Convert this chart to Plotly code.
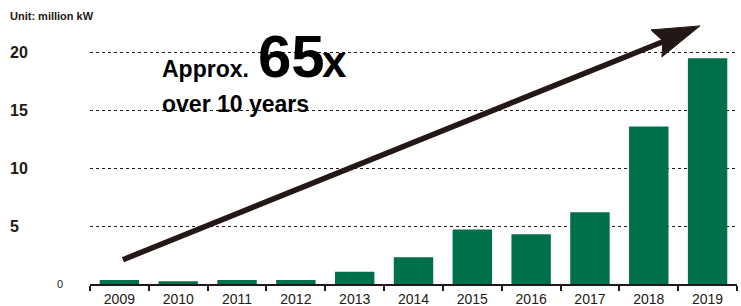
import plotly.graph_objects as go

years = ["2009", "2010", "2011", "2012", "2013", "2014", "2015", "2016", "2017", "2018", "2019"]
capacity = [0.35, 0.23, 0.35, 0.35, 1.06, 2.3, 4.7, 4.3, 6.2, 13.6, 19.5]
ytick_vals = [5, 10, 15, 20]
ytick_text = ["5", "10", "15", "20"]

DARK = "#231815"
GREEN = "#00704a"
FONT = "Liberation Sans, Arial, sans-serif"

fig = go.Figure()
fig.add_trace(go.Bar(x=years, y=capacity, marker=dict(color=GREEN, line=dict(width=0)),
                     showlegend=False, hoverinfo="skip"))

annotations = []
for v, t in zip(ytick_vals, ytick_text):
    annotations.append(dict(x=0, xref="paper", xanchor="left", xshift=-82, y=v, yref="y",
                            text="<b>%s</b>" % t, showarrow=False,
                            font=dict(size=16, color=DARK, family=FONT)))
annotations.append(dict(x=0, xref="paper", xanchor="left", xshift=-35, y=0, yref="y", yshift=0,
                        text="0", showarrow=False, font=dict(size=11, color=DARK, family=FONT)))
annotations.append(dict(x=0, xref="paper", xanchor="left", xshift=-82, y=1, yref="paper", yanchor="middle",
                        yshift=-10,
                        text="<b>Unit: million kW</b>", showarrow=False,
                        font=dict(size=11, color=DARK, family=FONT)))
# big callout text
annotations.append(dict(x=0, xref="paper", xanchor="left", xshift=70, y=1, yref="paper", yanchor="bottom",
                        yshift=-78, text="<b>Approx.</b>", showarrow=False,
                        font=dict(size=23, color="black", family=FONT)))
annotations.append(dict(x=0, xref="paper", xanchor="left", xshift=166, y=1, yref="paper", yanchor="bottom",
                        yshift=-86, text="<b>65</b>", showarrow=False,
                        font=dict(size=60, color="black", family=FONT)))
annotations.append(dict(x=0, xref="paper", xanchor="left", xshift=230, y=1, yref="paper", yanchor="bottom",
                        yshift=-82, text="<b>x</b>", showarrow=False,
                        font=dict(size=44, color="black", family=FONT)))
annotations.append(dict(x=0, xref="paper", xanchor="left", xshift=70, y=1, yref="paper", yanchor="middle",
                        yshift=-98, text="<b>over 10 years</b>", showarrow=False,
                        font=dict(size=23, color="black", family=FONT)))

shapes = [
    dict(type="line", xref="x", yref="y", x0=0.06, y0=2.1, x1=9.45, y1=21.35,
         line=dict(color=DARK, width=5.5)),
    dict(type="path", xref="x", yref="y", xsizemode="pixel", ysizemode="pixel",
         xanchor=9.87, yanchor=22.28,
         path="M0,0 L-49,-4 L-37,-15 L-38,-31 Z",
         fillcolor=DARK, line=dict(color=DARK, width=1)),
]

fig.update_layout(
    width=741, height=306,
    margin=dict(l=90, r=4, t=6, b=22),
    paper_bgcolor="white", plot_bgcolor="white",
    bargap=0.33,
    font=dict(family=FONT, color=DARK),
    annotations=annotations,
    shapes=shapes,
    xaxis=dict(type="category", showline=True, linecolor=DARK, linewidth=1.5,
               ticks="outside", tickson="boundaries", ticklen=5, tickcolor=DARK, tickwidth=1.5,
               ticklabelstandoff=1, automargin=False,
               tickfont=dict(size=14, color=DARK, family=FONT), showgrid=False, fixedrange=True),
    yaxis=dict(range=[0, 24], tickvals=ytick_vals, showticklabels=False, showgrid=True,
               gridcolor=DARK, gridwidth=1, griddash="dot", zeroline=False, showline=False,
               fixedrange=True, automargin=False),
)

fig.write_html("out.html", config={"displayModeBar": False},
               post_script="document.body.style.margin='0';document.body.style.overflow='hidden';")
